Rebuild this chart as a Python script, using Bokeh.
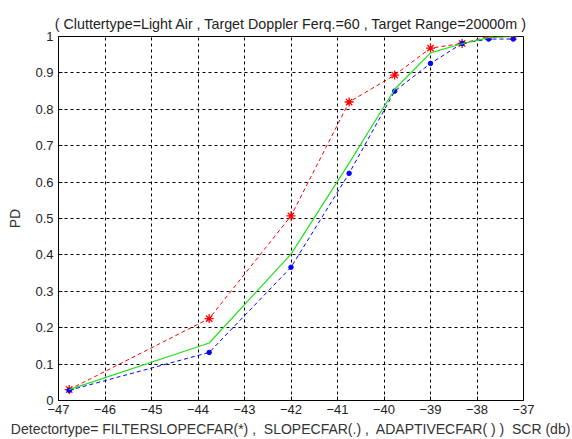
from bokeh.plotting import figure
from bokeh.models import FixedTicker, Range1d
from bokeh.embed import file_html
from bokeh.resources import INLINE

# SCR (db) values at which PD was measured
scr = [-46.77, -43.76, -42.0, -40.75, -39.77, -39.0, -38.32, -37.75, -37.22]
# PD per detector
pd_filterslope = [0.030, 0.225, 0.507, 0.820, 0.894, 0.968, 0.981, 1.000, 1.000]
pd_slope = [0.028, 0.132, 0.366, 0.624, 0.850, 0.926, 0.981, 0.993, 0.993]
pd_adaptive = [0.030, 0.158, 0.402, 0.652, 0.855, 0.955, 0.980, 0.997, 1.000]

x_ticks = [-47, -46, -45, -44, -43, -42, -41, -40, -39, -38, -37]
y_ticks = [0, 0.1, 0.2, 0.3, 0.4, 0.5, 0.6, 0.7, 0.8, 0.9, 1]
y_tick_labels = ["0", "0.1", "0.2", "0.3", "0.4", "0.5", "0.6", "0.7", "0.8", "0.9", "1"]

title_text = "( Cluttertype=Light Air , Target Doppler Ferq.=60 , Target Range=20000m )"
x_label = "Detectortype= FILTERSLOPECFAR(*) ,\u00a0 SLOPECFAR(.) ,\u00a0 ADAPTIVECFAR( ) )\u00a0 SCR (db)"
y_label = "PD"

FONT = "Liberation Sans"

p = figure(width=572, height=439, output_backend="svg", toolbar_location=None,
           x_range=Range1d(-47, -37), y_range=Range1d(0, 1),
           min_border_left=58, min_border_right=49, min_border_top=36, min_border_bottom=39,
           title=title_text)

p.title.align = "center"
p.title.text_font = FONT
p.title.text_font_size = "14.3px"
p.title.text_font_style = "normal"
p.title.text_color = "#222222"
p.title.standoff = 10

p.outline_line_color = "black"
p.outline_line_width = 1
p.background_fill_color = "white"
p.border_fill_color = "white"

for ax in (p.xaxis[0], p.yaxis[0]):
    ax.axis_line_color = "black"
    ax.major_tick_in = 4
    ax.major_tick_out = 0
    ax.minor_tick_line_color = None
    ax.major_label_text_font = FONT
    ax.major_label_text_font_size = "13px"
    ax.major_label_text_color = "#222222"
    ax.axis_label_text_font = FONT
    ax.axis_label_text_font_size = "14px"
    ax.axis_label_text_font_style = "normal"
    ax.axis_label_text_color = "#333333"

p.xaxis.ticker = FixedTicker(ticks=x_ticks)
p.yaxis.ticker = FixedTicker(ticks=y_ticks)
p.yaxis.major_label_overrides = {t: l for t, l in zip(y_ticks, y_tick_labels)}
p.xaxis.major_label_standoff = 4
p.yaxis.major_label_standoff = 5
p.xaxis.axis_label = x_label
p.yaxis.axis_label = y_label
p.xaxis.axis_label_standoff = 4
p.yaxis.axis_label_standoff = 9

for g in (p.xgrid[0], p.ygrid[0]):
    g.grid_line_color = "black"
    g.grid_line_dash = "3 3"
    g.grid_line_width = 1
    g.grid_line_alpha = 1.0

# FILTERSLOPECFAR: red dashed with asterisks
p.line(scr, pd_filterslope, line_color="red", line_dash="4 3", line_width=1)
p.scatter(scr, pd_filterslope, marker="asterisk", size=9, line_color="red", line_width=1.3)

# SLOPECFAR: blue dashed with dots
p.line(scr, pd_slope, line_color="blue", line_dash="4 3", line_width=1)
p.scatter(scr, pd_slope, marker="circle", size=4.5, fill_color="blue", line_color="blue")

# ADAPTIVECFAR: green solid
p.line(scr, pd_adaptive, line_color="#22e022", line_width=1.2)

open("out.html", "w").write(file_html(p, INLINE))
